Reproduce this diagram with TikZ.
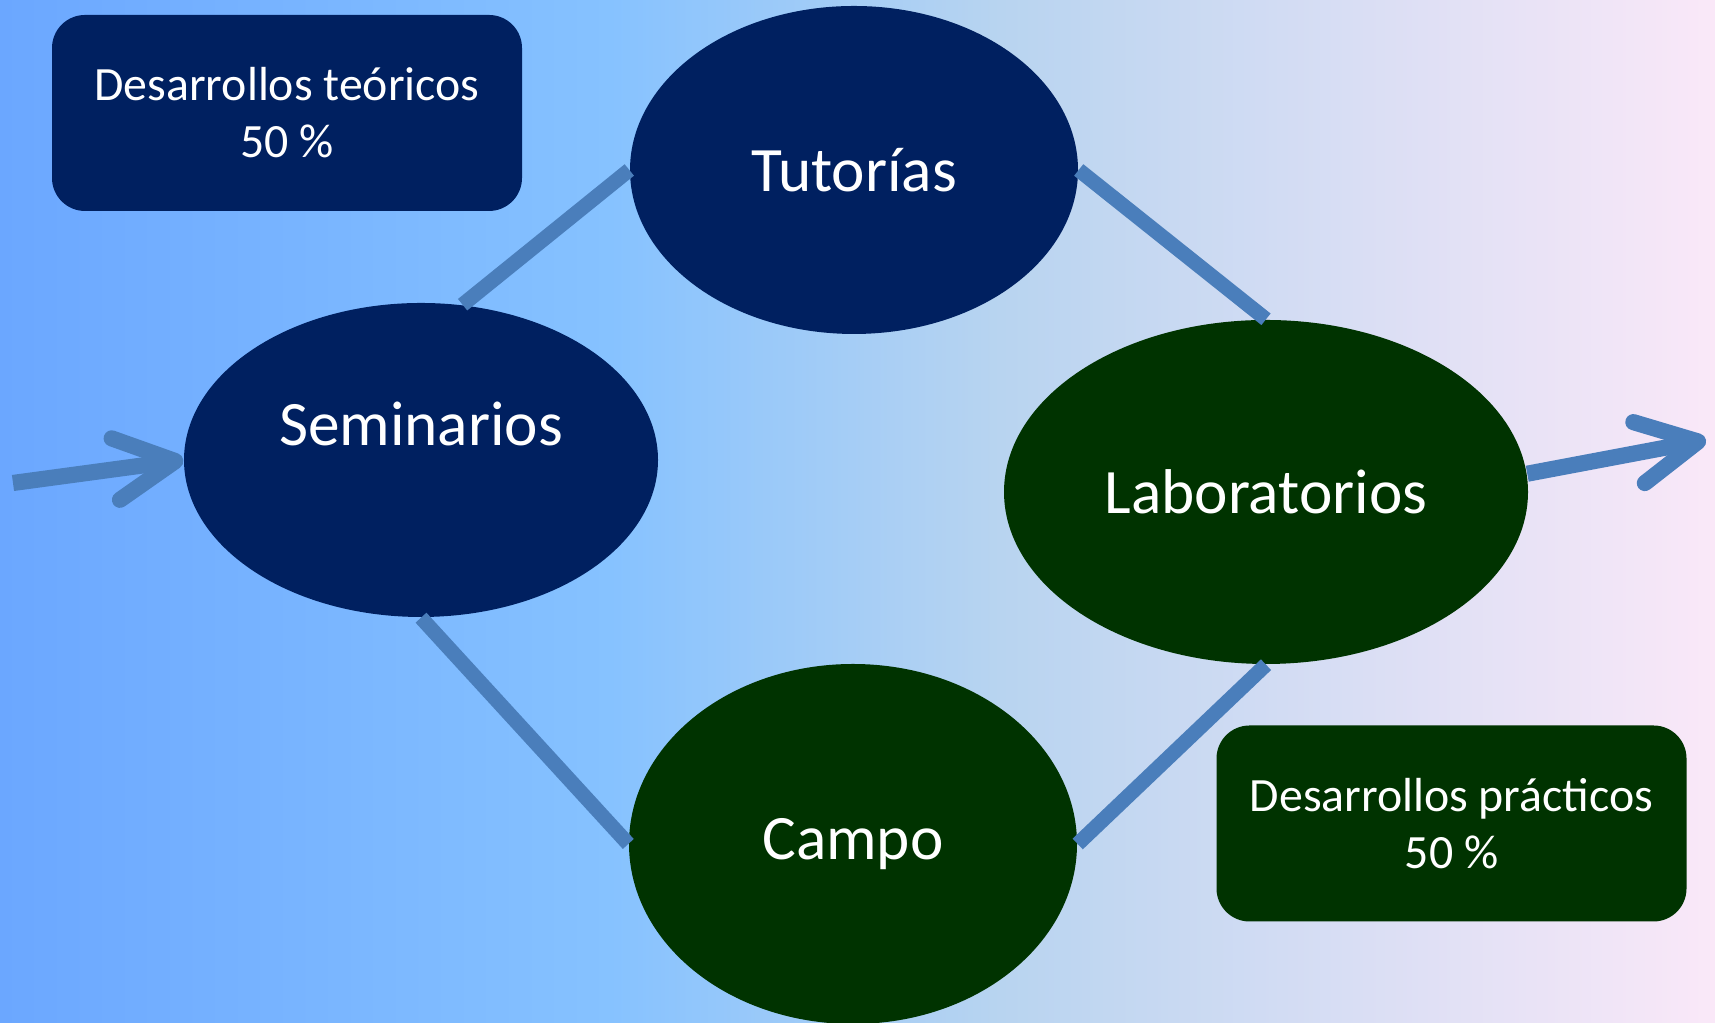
\documentclass[tikz,border=0pt]{standalone}
\usepackage{fontspec}
\setmainfont{Carlito}
\usetikzlibrary{shapes.geometric,arrows.meta}
\definecolor{navy}{HTML}{002060}
\definecolor{dkgreen}{HTML}{003300}
\definecolor{linkblue}{HTML}{4A7EBB}
\definecolor{bgA}{RGB}{107,167,255}
\definecolor{bgB}{RGB}{134,194,255}
\definecolor{bgC}{RGB}{184,212,240}
\definecolor{bgD}{RGB}{250,232,248}
\begin{document}
\begin{tikzpicture}
    \tikzstyle{stage} = [ellipse, inner sep=0pt, text=white, font=\fontsize{18}{22}\selectfont]
    \tikzstyle{theory} = [stage, fill=navy]
    \tikzstyle{practice} = [stage, fill=dkgreen]
    \tikzstyle{share} = [rectangle, rounded corners=3.3mm, text=white, align=center,
    minimum width=4.7cm, minimum height=1.96cm, font=\fontsize{13.6}{16.2}\selectfont]
    \tikzstyle{link} = [draw=linkblue, line width=4.2pt]
    \tikzstyle{flow} = [link, line width=4.6pt, -{Straight Barb[length=6mm, width=6.2mm, round]}]
    % background
    \useasboundingbox (0,0) rectangle (17.15,10.23);
    \shade [left color=bgA, right color=bgB] (0,0) rectangle (6.1,10.23);
    \shade [left color=bgB, right color=bgC] (6.1,0) rectangle (10,10.23);
    \shade [left color=bgC, right color=bgD] (10,0) rectangle (17.15,10.23);
    \node [theory, minimum width=4.48cm, minimum height=3.28cm] (tut) at (8.54,8.53) {Tutorías};
    \node [theory, minimum width=4.74cm, minimum height=3.14cm,
        label={[text=white, font=\fontsize{18}{22}\selectfont, yshift=3.6mm]center:Seminarios}] (sem) at (4.21,5.63) {};
    \node [practice, minimum width=5.24cm, minimum height=3.44cm] (lab) at (12.66,5.31) {Laboratorios};
    \node [practice, minimum width=4.48cm, minimum height=3.6cm] (campo) at (8.53,1.79) {Campo};
    \node [share, fill=navy] (teo) at (2.87,9.10) {Desarrollos teóricos\\50 \%};
    \node [share, fill=dkgreen] (prac) at (14.515,1.995) {Desarrollos prácticos\\50 \%};
    \draw [link] (sem.75) -- (tut.west);
    \draw [link] (tut.east) -- (lab.north);
    \draw [link] (sem.south) -- (campo.west);
    \draw [link] (lab.south) -- (campo.east);
    \coordinate (start) at (0.13,5.40);
    \coordinate (finish) at (17.06,5.83);
    \draw [flow] (start) -- (sem.west);
    \draw [flow] (lab.4) -- (finish);
\end{tikzpicture}
\end{document}
